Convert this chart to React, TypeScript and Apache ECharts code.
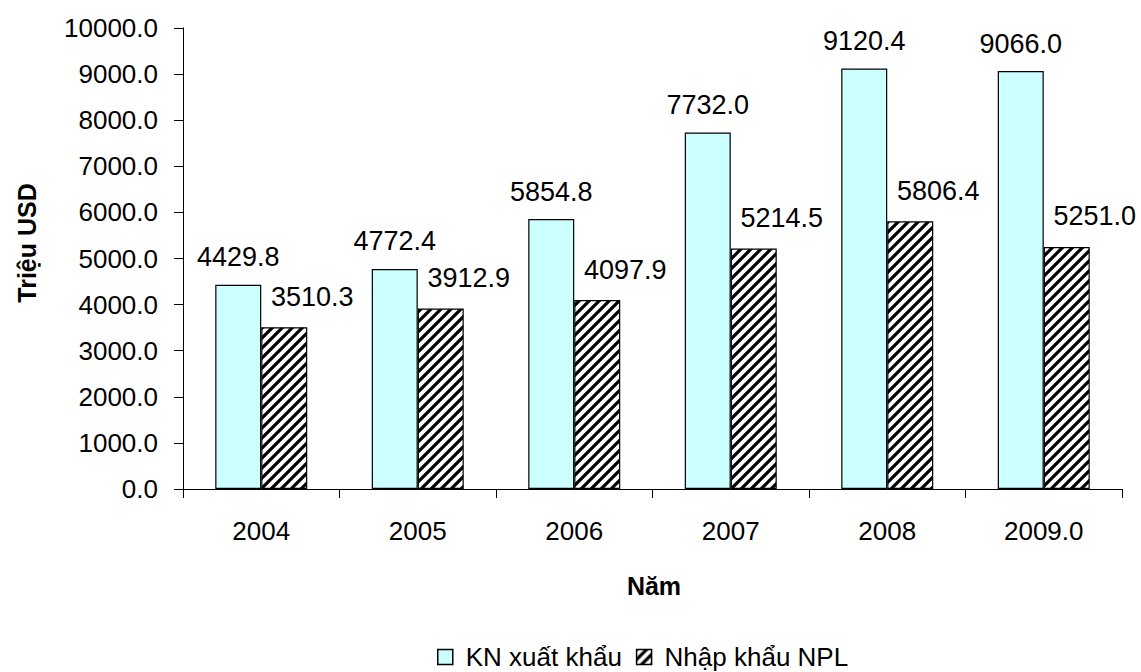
import React, { useEffect, useRef } from "react";
import * as echarts from "echarts";

const categories = ["2004", "2005", "2006", "2007", "2008", "2009.0"];
const exportValues = [4429.8, 4772.4, 5854.8, 7732.0, 9120.4, 9066.0];
const importValues = [3510.3, 3912.9, 4097.9, 5214.5, 5806.4, 5251.0];
const seriesNames = ["KN xuất khẩu", "Nhập khẩu NPL"];
const yTitle = "Triệu USD";
const xTitle = "Năm";

const FONT = "'Liberation Sans', Arial, sans-serif";

function makeHatch(): string {
  const n = 10;
  const c = document.createElement("canvas");
  c.width = n;
  c.height = n;
  const ctx = c.getContext("2d")!;
  ctx.fillStyle = "#ffffff";
  ctx.fillRect(0, 0, n, n);
  ctx.strokeStyle = "#000000";
  ctx.lineWidth = 3.2;
  ctx.lineCap = "square";
  const seg = (x1: number, y1: number, x2: number, y2: number) => {
    ctx.beginPath();
    ctx.moveTo(x1, y1);
    ctx.lineTo(x2, y2);
    ctx.stroke();
  };
  seg(-2, n + 2, n + 2, -2);
  seg(-2, 2, 2, -2);
  seg(n - 2, n + 2, n + 2, n - 2);
  return c.toDataURL();
}

export default function App() {
  const ref = useRef<HTMLDivElement>(null);
  useEffect(() => {
    if (!ref.current) return;
    const chart = echarts.init(ref.current, undefined, { renderer: "svg" });
    const hatch = { image: makeHatch(), repeat: "repeat" } as any;
    const fmt = (p: any) => Number(p.value).toFixed(1);
    chart.setOption({
      animation: false,
      backgroundColor: "#ffffff",
      textStyle: { fontFamily: FONT },
      grid: { left: 183, right: 19, top: 28, bottom: 183 },
      xAxis: {
        type: "category",
        data: categories,
        axisLine: { lineStyle: { color: "#000", width: 1 } },
        axisTick: { show: true, length: 9, lineStyle: { color: "#000" } },
        axisLabel: { color: "#000", fontSize: 26, fontFamily: FONT, margin: 29 },
      },
      yAxis: {
        type: "value",
        min: 0,
        max: 10000,
        interval: 1000,
        axisLine: { show: true, lineStyle: { color: "#000", width: 1 } },
        axisTick: { show: true, length: 9, lineStyle: { color: "#000" } },
        splitLine: { show: false },
        axisLabel: {
          color: "#000",
          fontSize: 26,
          fontFamily: FONT,
          margin: 25,
          formatter: (v: number) => v.toFixed(1),
        },
      },
      legend: {
        left: 437,
        top: 643,
        padding: 0,
        itemWidth: 15,
        itemHeight: 15,
        itemGap: 14,
        icon: "rect",
        textStyle: { color: "#000", fontSize: 26, lineHeight: 28, fontFamily: FONT, padding: [0, 0, 0, 8] },
        data: [
          { name: seriesNames[0], itemStyle: { color: "#CCFFFF", borderColor: "#000", borderWidth: 1.5 } },
          { name: seriesNames[1], itemStyle: { color: hatch, borderColor: "#000", borderWidth: 1.5 } },
        ],
      },
      graphic: [
        {
          type: "text",
          x: 27,
          y: 243,
          rotation: Math.PI / 2,
          style: {
            text: yTitle,
            fontSize: 25,
            fontWeight: "bold",
            fontFamily: FONT,
            fill: "#000",
            align: "center",
            verticalAlign: "middle",
          },
        },
        {
          type: "text",
          x: 654,
          y: 586,
          style: {
            text: xTitle,
            fontSize: 25,
            fontWeight: "bold",
            fontFamily: FONT,
            fill: "#000",
            align: "center",
            verticalAlign: "middle",
          },
        },
      ],
      series: [
        {
          name: seriesNames[0],
          type: "bar",
          data: exportValues,
          barWidth: 46,
          barGap: "0%",
          itemStyle: { color: "#CCFFFF", borderColor: "#000", borderWidth: 1.2 },
          label: {
            show: true,
            position: "top",
            distance: 14,
            color: "#000",
            fontSize: 27,
            fontFamily: FONT,
            formatter: fmt,
          },
        },
        {
          name: seriesNames[1],
          type: "bar",
          data: importValues,
          barWidth: 46,
          barGap: "0%",
          itemStyle: { color: hatch, borderColor: "#000", borderWidth: 1.2 },
          label: {
            show: true,
            position: "top",
            distance: 17,
            offset: [28, 0],
            color: "#000",
            fontSize: 27,
            fontFamily: FONT,
            formatter: fmt,
          },
        },
      ],
    });
    return () => chart.dispose();
  }, []);
  return <div ref={ref} style={{ width: 1141, height: 672, position: "absolute", left: 0, top: 0 }} />;
}
